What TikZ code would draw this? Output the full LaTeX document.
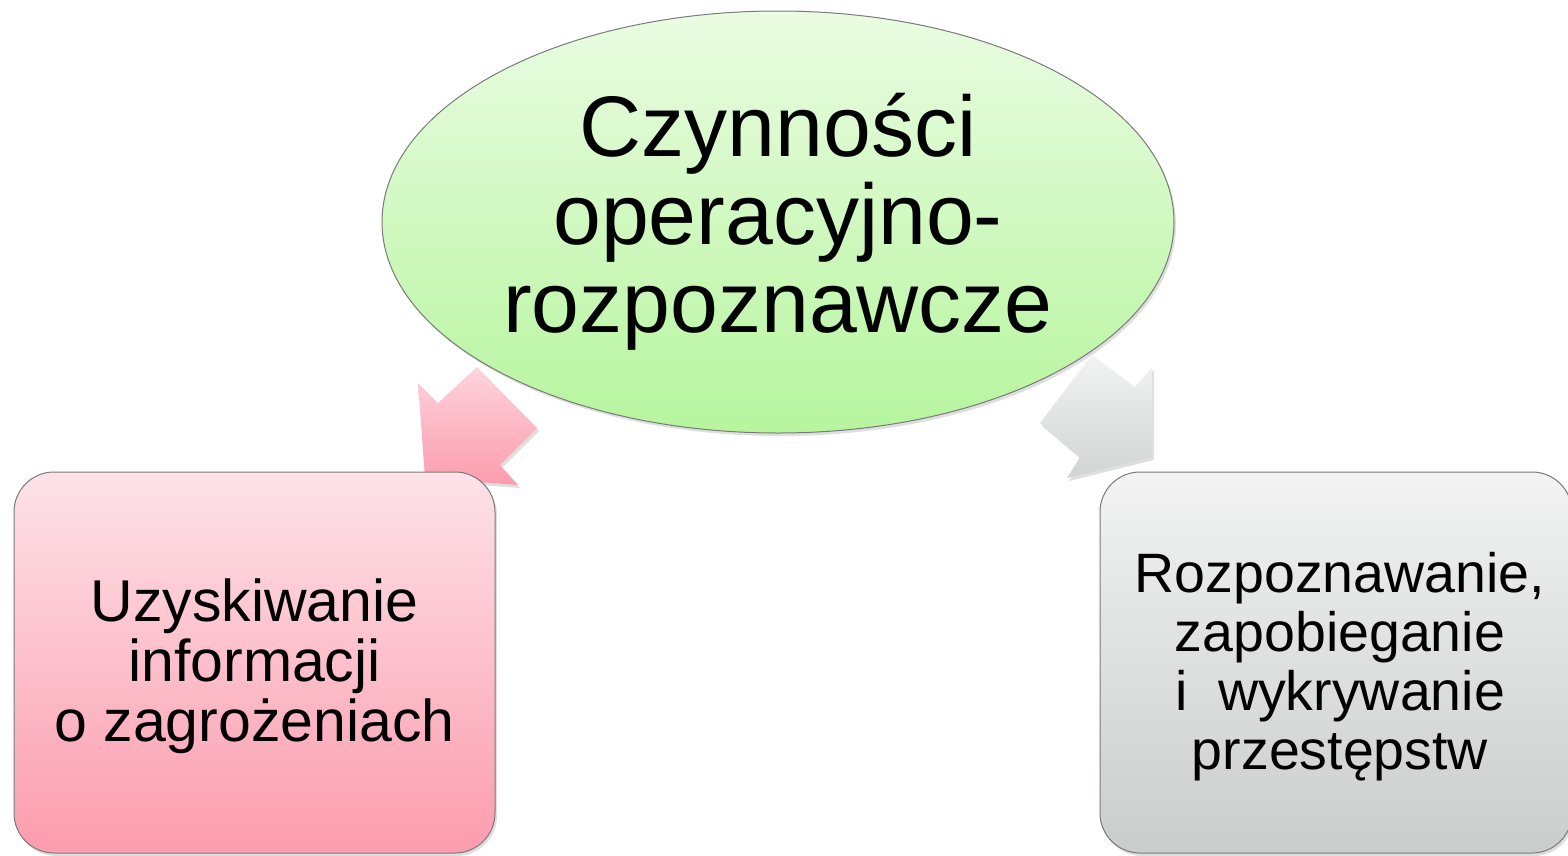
\documentclass[tikz,border=0pt]{standalone}
\usepackage{fontspec}
\setmainfont{Liberation Sans}
\usetikzlibrary{shapes.geometric,shadows}
\definecolor{greenTop}{HTML}{EAFCE2}
\definecolor{greenBot}{HTML}{B6F59E}
\definecolor{pinkTop}{HTML}{FDE2E8}
\definecolor{pinkBot}{HTML}{FC9CAE}
\definecolor{grayTop}{HTML}{F2F3F2}
\definecolor{grayBot}{HTML}{C9CDCC}
\definecolor{edgeGray}{HTML}{7A7A7A}
\tikzset{
  shade/.style={drop shadow={opacity=0.25,shadow xshift=2pt,shadow yshift=-3pt}},
  mainell/.style={ellipse,draw=edgeGray,line width=1pt,top color=greenTop,bottom color=greenBot,
     minimum width=792pt,minimum height=422pt,inner sep=0pt,align=center,
     font=\fontsize{86}{88}\selectfont,shade},
  leftbox/.style={rectangle,rounded corners=40pt,draw=edgeGray,line width=1pt,top color=pinkTop,bottom color=pinkBot,
     minimum width=481pt,minimum height=381pt,inner sep=0pt,shade},
  rightbox/.style={rectangle,rounded corners=40pt,draw=edgeGray,line width=1pt,top color=grayTop,bottom color=grayBot,
     minimum width=472pt,minimum height=381pt,inner sep=0pt,shade},
  lefttext/.style={align=center,font=\fontsize{59}{60}\selectfont,yshift=-4pt},
  righttext/.style={align=center,font=\fontsize{55.5}{59}\selectfont,yshift=-4pt,xshift=4pt},
  pinkarrow/.style={top color=pinkTop!80!pinkBot,bottom color=pinkBot,draw=none,shade},
  grayarrow/.style={top color=grayTop,bottom color=grayBot!80!grayTop,draw=none,shade}
}
\begin{document}
\begin{tikzpicture}[x=1pt,y=-1pt]
\useasboundingbox[fill=white] (0,0) rectangle (1568,855);
% block arrows
\path[pinkarrow] (477,367) -- (537,428) -- (500,465) -- (518,485) -- (425,478) -- (418,383) -- (438,403) -- cycle;
\path[grayarrow] (1092,355) -- (1135,387) -- (1152,367) -- (1152,457) -- (1067,478) -- (1080,457) -- (1040,423) -- cycle;
% nodes
\node[mainell] (top) at (778,222) {Czynności\\operacyjno-\\rozpoznawcze};
\node[leftbox,label={[lefttext]center:Uzyskiwanie\\informacji\\o zagrożeniach}] (left) at (254.5,662.5) {};
\node[rightbox,label={[righttext]center:Rozpoznawanie,\\zapobieganie\\i\ \ wykrywanie\\przestępstw}] (right) at (1336,662.5) {};
\end{tikzpicture}
\end{document}
